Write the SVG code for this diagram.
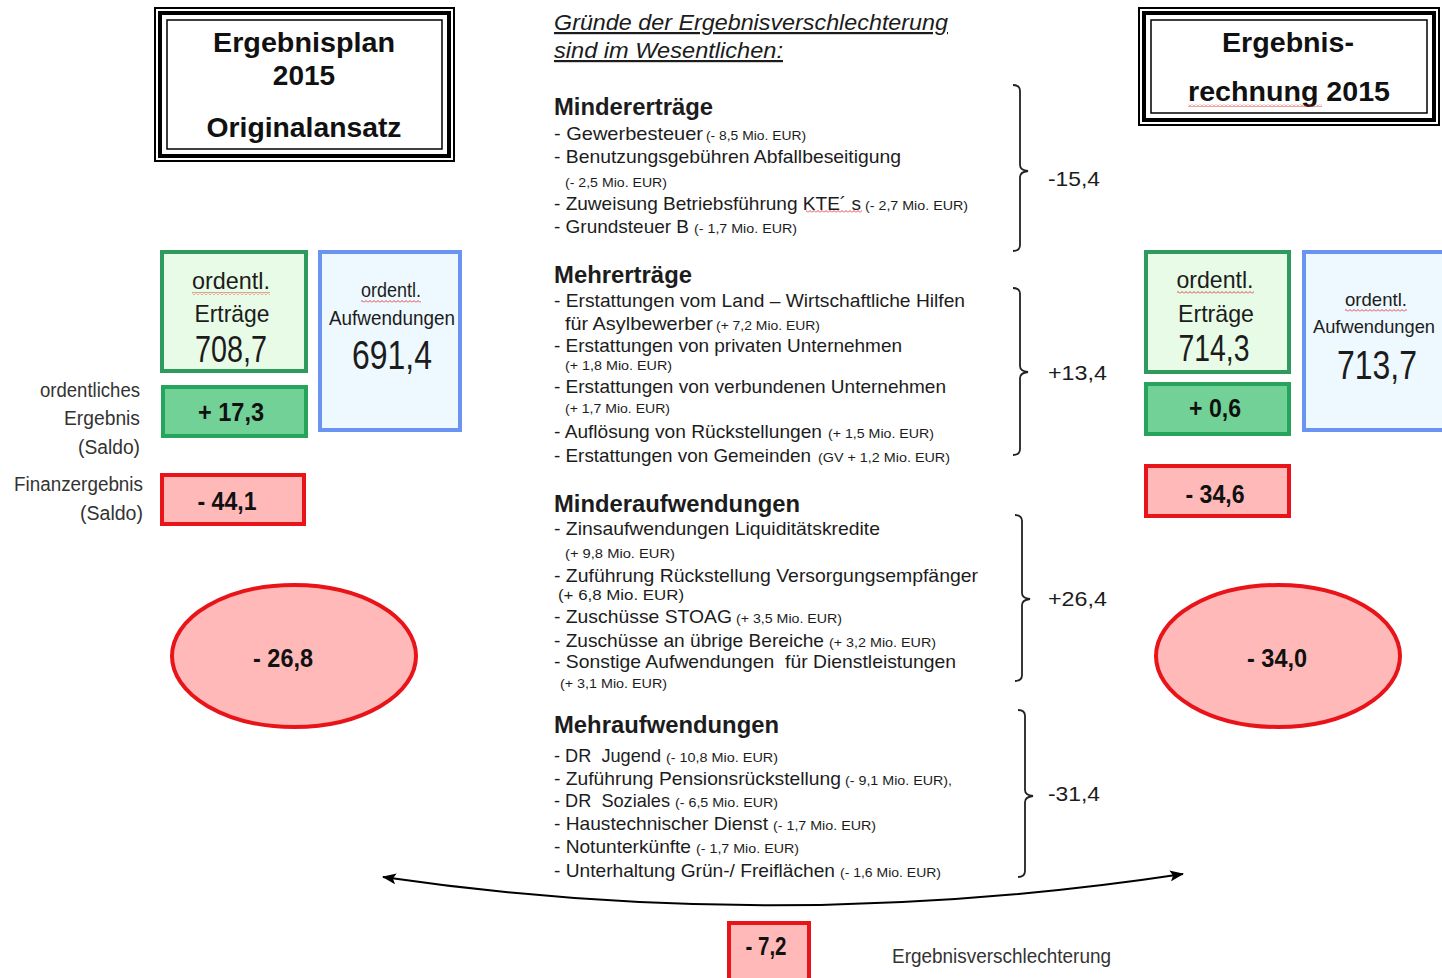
<svg xmlns="http://www.w3.org/2000/svg" width="1442" height="978" viewBox="0 0 1442 978">
<style>
text{font-family:"Liberation Sans",Arial,sans-serif;fill:#1c1c1c}
.t{font-size:28px;font-weight:bold;text-anchor:middle;fill:#111}
.h{font-size:22px;font-style:italic;text-decoration:underline}
.s{font-size:23.5px;font-weight:bold}
.i{font-size:18.5px}
.m{font-size:13px}
.v{font-size:21px}
.lab{font-size:19.5px;text-anchor:end;fill:#333}
.bx{font-size:24px;text-anchor:middle}
.big{font-size:37px;text-anchor:middle}
.num{font-size:26px;font-weight:bold;text-anchor:middle;fill:#111}
.g1{fill:#e7fbe6;stroke:#2e9a5e;stroke-width:4}
.g2{fill:#72d197;stroke:#27a45b;stroke-width:4}
.b1{fill:#eef8ff;stroke:#6b94f2;stroke-width:4}
.r1{fill:#ffb9b9;stroke:#e8141a;stroke-width:4}
.br{fill:none;stroke:#222;stroke-width:1.8}
.k{fill:none;stroke:#000}
</style>
<defs>
<pattern id="sq" width="4" height="3" patternUnits="userSpaceOnUse"><path d="M0,2.5 L2,0.5 L4,2.5" stroke="#e03030" fill="none" stroke-width="0.9"/></pattern>
<marker id="ah" viewBox="0 0 14 11" refX="13" refY="5.5" markerWidth="14" markerHeight="11" markerUnits="userSpaceOnUse" orient="auto-start-reverse"><path d="M0,0 L14,5.5 L0,11 L3,5.5 Z" fill="#000"/></marker>
</defs>
<rect width="1442" height="978" fill="#fff"/>

<g id="title-left">
<rect class="k" x="155" y="8" width="299" height="153" stroke-width="2"/>
<rect class="k" x="160" y="13" width="289" height="143" stroke-width="4"/>
<rect class="k" x="167" y="20" width="275" height="129" stroke-width="1.5"/>
<text class="t" x="304" y="52" textLength="182" lengthAdjust="spacingAndGlyphs">Ergebnisplan</text>
<text class="t" x="304" y="85">2015</text>
<text class="t" x="304" y="137" textLength="195" lengthAdjust="spacingAndGlyphs">Originalansatz</text>
</g>

<g id="title-right">
<rect class="k" x="1139" y="8" width="300" height="117" stroke-width="2"/>
<rect class="k" x="1144" y="13" width="290" height="107" stroke-width="4"/>
<rect class="k" x="1151" y="20" width="276" height="93" stroke-width="1.5"/>
<text class="t" x="1288" y="52" textLength="132" lengthAdjust="spacingAndGlyphs">Ergebnis-</text>
<text class="t" x="1289" y="101" textLength="202" lengthAdjust="spacingAndGlyphs">rechnung 2015</text>
<rect x="1188" y="104" width="134" height="3" fill="url(#sq)"/>
</g>

<g id="heading">
<text class="h" x="554" y="30" textLength="394" lengthAdjust="spacingAndGlyphs">Gründe der Ergebnisverschlechterung</text>
<text class="h" x="554" y="58" textLength="229" lengthAdjust="spacingAndGlyphs">sind im Wesentlichen:</text>
</g>

<g id="mindertraege">
<text class="s" x="554" y="115" textLength="159" lengthAdjust="spacingAndGlyphs">Mindererträge</text>
<text class="i" x="554" y="140" textLength="149" lengthAdjust="spacingAndGlyphs">- Gewerbesteuer</text>
<text class="m" x="706" y="140" textLength="100" lengthAdjust="spacingAndGlyphs">(- 8,5 Mio. EUR)</text>
<text class="i" x="554" y="163" textLength="347" lengthAdjust="spacingAndGlyphs">- Benutzungsgebühren Abfallbeseitigung</text>
<text class="m" x="565" y="187" textLength="102" lengthAdjust="spacingAndGlyphs">(- 2,5 Mio. EUR)</text>
<text class="i" x="554" y="210" textLength="307" lengthAdjust="spacingAndGlyphs">- Zuweisung Betriebsführung KTE´ s</text>
<text class="m" x="865" y="210" textLength="103" lengthAdjust="spacingAndGlyphs">(- 2,7 Mio. EUR)</text>
<rect x="806" y="210" width="56" height="3" fill="url(#sq)"/>
<text class="i" x="554" y="233" textLength="135" lengthAdjust="spacingAndGlyphs">- Grundsteuer B</text>
<text class="m" x="694" y="233" textLength="103" lengthAdjust="spacingAndGlyphs">(- 1,7 Mio. EUR)</text>
</g>

<g id="mehrertraege">
<text class="s" x="554" y="283" textLength="138" lengthAdjust="spacingAndGlyphs">Mehrerträge</text>
<text class="i" x="554" y="307" textLength="411" lengthAdjust="spacingAndGlyphs">- Erstattungen vom Land – Wirtschaftliche Hilfen</text>
<text class="i" x="565" y="330" textLength="148" lengthAdjust="spacingAndGlyphs">für Asylbewerber</text>
<text class="m" x="716" y="330" textLength="104" lengthAdjust="spacingAndGlyphs">(+ 7,2 Mio. EUR)</text>
<text class="i" x="554" y="352" textLength="348" lengthAdjust="spacingAndGlyphs">- Erstattungen von privaten Unternehmen</text>
<text class="m" x="565" y="370" textLength="107" lengthAdjust="spacingAndGlyphs">(+ 1,8 Mio. EUR)</text>
<text class="i" x="554" y="393" textLength="392" lengthAdjust="spacingAndGlyphs">- Erstattungen von verbundenen Unternehmen</text>
<text class="m" x="565" y="413" textLength="105" lengthAdjust="spacingAndGlyphs">(+ 1,7 Mio. EUR)</text>
<text class="i" x="554" y="438" textLength="268" lengthAdjust="spacingAndGlyphs">- Auflösung von Rückstellungen</text>
<text class="m" x="828" y="438" textLength="106" lengthAdjust="spacingAndGlyphs">(+ 1,5 Mio. EUR)</text>
<text class="i" x="554" y="462" textLength="257" lengthAdjust="spacingAndGlyphs">- Erstattungen von Gemeinden</text>
<text class="m" x="818" y="462" textLength="132" lengthAdjust="spacingAndGlyphs">(GV + 1,2 Mio. EUR)</text>
</g>

<g id="minderaufwendungen">
<text class="s" x="554" y="512" textLength="246" lengthAdjust="spacingAndGlyphs">Minderaufwendungen</text>
<text class="i" x="554" y="535" textLength="326" lengthAdjust="spacingAndGlyphs">- Zinsaufwendungen Liquiditätskredite</text>
<text class="m" x="565" y="558" textLength="110" lengthAdjust="spacingAndGlyphs">(+ 9,8 Mio. EUR)</text>
<text class="i" x="554" y="582" textLength="424" lengthAdjust="spacingAndGlyphs">- Zuführung Rückstellung Versorgungsempfänger</text>
<text class="m" x="558" y="600" style="font-size:15.5px" textLength="126" lengthAdjust="spacingAndGlyphs">(+ 6,8 Mio. EUR)</text>
<text class="i" x="554" y="623" textLength="178" lengthAdjust="spacingAndGlyphs">- Zuschüsse STOAG</text>
<text class="m" x="736" y="623" textLength="106" lengthAdjust="spacingAndGlyphs">(+ 3,5 Mio. EUR)</text>
<text class="i" x="554" y="647" textLength="270" lengthAdjust="spacingAndGlyphs">- Zuschüsse an übrige Bereiche</text>
<text class="m" x="829" y="647" textLength="107" lengthAdjust="spacingAndGlyphs">(+ 3,2 Mio. EUR)</text>
<text class="i" x="554" y="668" xml:space="preserve" textLength="402" lengthAdjust="spacingAndGlyphs">- Sonstige Aufwendungen  für Dienstleistungen</text>
<text class="m" x="560" y="688" textLength="107" lengthAdjust="spacingAndGlyphs">(+ 3,1 Mio. EUR)</text>
</g>

<g id="mehraufwendungen">
<text class="s" x="554" y="733" textLength="225" lengthAdjust="spacingAndGlyphs">Mehraufwendungen</text>
<text class="i" x="554" y="762" xml:space="preserve" textLength="107" lengthAdjust="spacingAndGlyphs">- DR  Jugend</text>
<text class="m" x="666" y="762" textLength="112" lengthAdjust="spacingAndGlyphs">(- 10,8 Mio. EUR)</text>
<text class="i" x="554" y="785" textLength="287" lengthAdjust="spacingAndGlyphs">- Zuführung Pensionsrückstellung</text>
<text class="m" x="845" y="785" textLength="107" lengthAdjust="spacingAndGlyphs">(- 9,1 Mio. EUR),</text>
<text class="i" x="554" y="807" xml:space="preserve" textLength="116" lengthAdjust="spacingAndGlyphs">- DR  Soziales</text>
<text class="m" x="675" y="807" textLength="103" lengthAdjust="spacingAndGlyphs">(- 6,5 Mio. EUR)</text>
<text class="i" x="554" y="830" textLength="214" lengthAdjust="spacingAndGlyphs">- Haustechnischer Dienst</text>
<text class="m" x="773" y="830" textLength="103" lengthAdjust="spacingAndGlyphs">(- 1,7 Mio. EUR)</text>
<text class="i" x="554" y="853" textLength="137" lengthAdjust="spacingAndGlyphs">- Notunterkünfte</text>
<text class="m" x="696" y="853" textLength="103" lengthAdjust="spacingAndGlyphs">(- 1,7 Mio. EUR)</text>
<text class="i" x="554" y="877" textLength="281" lengthAdjust="spacingAndGlyphs">- Unterhaltung Grün-/ Freiflächen</text>
<text class="m" x="840" y="877" textLength="101" lengthAdjust="spacingAndGlyphs">(- 1,6 Mio. EUR)</text>
</g>

<g id="brackets">
<path class="br" d="M1013,85 Q1020,85 1020,91 V165 Q1020,170 1028,171 Q1020,172 1020,177 V245 Q1020,251 1013,251"/>
<text class="v" x="1048" y="186" textLength="52" lengthAdjust="spacingAndGlyphs">-15,4</text>
<path class="br" d="M1013,288 Q1020,288 1020,294 V366 Q1020,371 1028,372 Q1020,373 1020,378 V449 Q1020,455 1013,455"/>
<text class="v" x="1048" y="380" textLength="59" lengthAdjust="spacingAndGlyphs">+13,4</text>
<path class="br" d="M1015,515 Q1022,515 1022,521 V593 Q1022,598 1030,599 Q1022,600 1022,605 V675 Q1022,681 1015,681"/>
<text class="v" x="1048" y="606" textLength="59" lengthAdjust="spacingAndGlyphs">+26,4</text>
<path class="br" d="M1018,710 Q1025,710 1025,716 V790 Q1025,795 1033,796 Q1025,797 1025,802 V871 Q1025,877 1018,877"/>
<text class="v" x="1048" y="801" textLength="52" lengthAdjust="spacingAndGlyphs">-31,4</text>
</g>

<g id="left-labels">
<text class="lab" x="140" y="397" textLength="100" lengthAdjust="spacingAndGlyphs">ordentliches</text>
<text class="lab" x="140" y="425" textLength="76" lengthAdjust="spacingAndGlyphs">Ergebnis</text>
<text class="lab" x="140" y="454" textLength="62" lengthAdjust="spacingAndGlyphs">(Saldo)</text>
<text class="lab" x="143" y="491" textLength="129" lengthAdjust="spacingAndGlyphs">Finanzergebnis</text>
<text class="lab" x="143" y="520" textLength="63" lengthAdjust="spacingAndGlyphs">(Saldo)</text>
</g>

<g id="left-ertraege">
<rect class="g1" x="162" y="252" width="144" height="119"/>
<text class="bx" x="231" y="289" textLength="78" lengthAdjust="spacingAndGlyphs">ordentl.</text>
<rect x="192" y="292" width="78" height="3" fill="url(#sq)"/>
<text class="bx" x="232" y="322" textLength="75" lengthAdjust="spacingAndGlyphs">Erträge</text>
<text class="big" x="231" y="362" textLength="72" lengthAdjust="spacingAndGlyphs">708,7</text>
</g>
<g id="left-aufwendungen">
<rect class="b1" x="320" y="252" width="140" height="178"/>
<text class="bx" x="391" y="297" style="font-size:20px" textLength="60" lengthAdjust="spacingAndGlyphs">ordentl.</text>
<rect x="361" y="300" width="60" height="3" fill="url(#sq)"/>
<text class="bx" x="392" y="325" style="font-size:20px" textLength="126" lengthAdjust="spacingAndGlyphs">Aufwendungen</text>
<text class="big" x="392" y="369" style="font-size:40px" textLength="80" lengthAdjust="spacingAndGlyphs">691,4</text>
</g>
<g id="left-ergebnis">
<rect class="g2" x="163" y="387" width="143" height="49"/>
<text class="num" x="231" y="421" textLength="66" lengthAdjust="spacingAndGlyphs">+ 17,3</text>
</g>
<g id="left-finanz">
<rect class="r1" x="162" y="475" width="142" height="49"/>
<text class="num" x="227" y="510" textLength="59" lengthAdjust="spacingAndGlyphs">- 44,1</text>
</g>
<g id="left-gesamt">
<ellipse class="r1" cx="294" cy="656" rx="122" ry="71"/>
<text class="num" x="283" y="667" textLength="60" lengthAdjust="spacingAndGlyphs">- 26,8</text>
</g>

<g id="right-ertraege">
<rect class="g1" x="1146" y="252" width="143" height="120"/>
<text class="bx" x="1215" y="288" textLength="77" lengthAdjust="spacingAndGlyphs">ordentl.</text>
<rect x="1177" y="291" width="77" height="3" fill="url(#sq)"/>
<text class="bx" x="1216" y="322" textLength="76" lengthAdjust="spacingAndGlyphs">Erträge</text>
<text class="big" x="1214" y="361" textLength="71" lengthAdjust="spacingAndGlyphs">714,3</text>
</g>
<g id="right-aufwendungen">
<rect class="b1" x="1304" y="252" width="142" height="178"/>
<text class="bx" x="1376" y="306" style="font-size:19px" textLength="62" lengthAdjust="spacingAndGlyphs">ordentl.</text>
<rect x="1345" y="309" width="62" height="3" fill="url(#sq)"/>
<text class="bx" x="1374" y="333" style="font-size:18.5px" textLength="122" lengthAdjust="spacingAndGlyphs">Aufwendungen</text>
<text class="big" x="1377" y="379" style="font-size:40px" textLength="80" lengthAdjust="spacingAndGlyphs">713,7</text>
</g>
<g id="right-ergebnis">
<rect class="g2" x="1146" y="384" width="143" height="50"/>
<text class="num" x="1215" y="417" textLength="52" lengthAdjust="spacingAndGlyphs">+ 0,6</text>
</g>
<g id="right-finanz">
<rect class="r1" x="1146" y="466" width="143" height="50"/>
<text class="num" x="1215" y="503" textLength="59" lengthAdjust="spacingAndGlyphs">- 34,6</text>
</g>
<g id="right-gesamt">
<ellipse class="r1" cx="1278" cy="656" rx="122" ry="71"/>
<text class="num" x="1277" y="667" textLength="60" lengthAdjust="spacingAndGlyphs">- 34,0</text>
</g>

<g id="connectors">
<path d="M383,877 Q780,935 1183,874" fill="none" stroke="#000" stroke-width="2" marker-start="url(#ah)" marker-end="url(#ah)"/>
</g>

<g id="differenz">
<rect class="r1" x="729" y="923" width="80" height="58"/>
<text class="num" x="766" y="955" textLength="41" lengthAdjust="spacingAndGlyphs">- 7,2</text>
<text x="892" y="963" style="font-size:20px;fill:#333" textLength="219" lengthAdjust="spacingAndGlyphs">Ergebnisverschlechterung</text>
</g>
</svg>
